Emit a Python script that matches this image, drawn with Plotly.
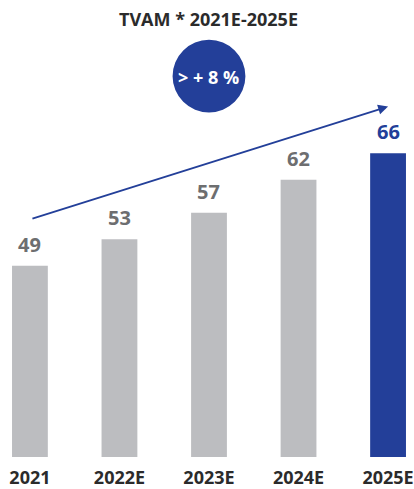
import plotly.graph_objects as go

categories = ["2021", "2022E", "2023E", "2024E", "2025E"]
values = [49, 53, 57, 62, 66]
bar_colors = ["#bcbdc0", "#bcbdc0", "#bcbdc0", "#bcbdc0", "#233f99"]
label_colors = ["#6d6e70", "#6d6e70", "#6d6e70", "#6d6e70", "#233f99"]
title_text = "TVAM * 2021E-2025E"
badge_text = "> + 8 %"

FONT = "Open Sans"
W, H = 414, 489
MB = 30
plot_h = H - MB
px_per_unit_x = 89.75
x0_px = 30
px_per_unit_y = 6.647
y_base = 20.1

xs = list(range(len(categories)))

fig = go.Figure()
fig.add_trace(go.Bar(
    x=xs, y=[v - y_base for v in values], base=y_base,
    marker=dict(color=bar_colors, line=dict(width=0)),
    width=0.4, hoverinfo="skip",
))

for i, v in enumerate(values):
    fig.add_annotation(
        x=i, y=v, xref="x", yref="y", text=f"<b>{v}</b>", showarrow=False,
        yanchor="bottom", yshift=6,
        font=dict(family=FONT, size=20, color=label_colors[i]),
    )

x_left = -x0_px / px_per_unit_x
x_right = (W - x0_px) / px_per_unit_x
y_top = y_base + plot_h / px_per_unit_y

def px2x(px):
    return (px - x0_px) / px_per_unit_x

def py2y(py):
    return y_base + (plot_h - py) / px_per_unit_y

# title
fig.add_annotation(
    x=px2x(209.5), y=py2y(19.5), xref="x", yref="y",
    text=f"<b>{title_text}</b>", showarrow=False,
    font=dict(family=FONT, size=18, color="#2b2b2b"),
)
# badge circle
fig.add_shape(
    type="circle", xref="x", yref="y",
    x0=px2x(173), x1=px2x(246), y0=py2y(113), y1=py2y(40),
    fillcolor="#233f99", line=dict(width=0), layer="above",
)
fig.add_annotation(
    x=px2x(209.5), y=py2y(77), xref="x", yref="y",
    text=f"<b>{badge_text}</b>", showarrow=False,
    font=dict(family=FONT, size=18, color="#ffffff"),
)
# trend arrow
fig.add_annotation(
    x=px2x(389), y=py2y(107), ax=px2x(31), ay=py2y(220),
    xref="x", yref="y", axref="x", ayref="y",
    text="", showarrow=True, arrowhead=2, arrowsize=1.1, arrowwidth=1.8,
    arrowcolor="#233f99",
)

fig.update_layout(
    width=W, height=H,
    margin=dict(l=0, r=0, t=0, b=MB),
    paper_bgcolor="white", plot_bgcolor="white",
    showlegend=False,
    xaxis=dict(
        range=[x_left, x_right], tickvals=xs,
        ticktext=[f"<b>{c}</b>" for c in categories],
        tickfont=dict(family=FONT, size=18, color="#2b2b2b"),
        showgrid=False, zeroline=False, showline=False, ticks="",
        ticklabelstandoff=8, ticklabeloverflow="allow", fixedrange=True,
    ),
    yaxis=dict(
        range=[y_base, y_top], visible=False, showgrid=False,
        zeroline=False, fixedrange=True,
    ),
)

fig.write_html(
    "out.html",
    config={"displayModeBar": False},
    post_script="document.body.style.margin='0';document.body.style.padding='0';",
)
